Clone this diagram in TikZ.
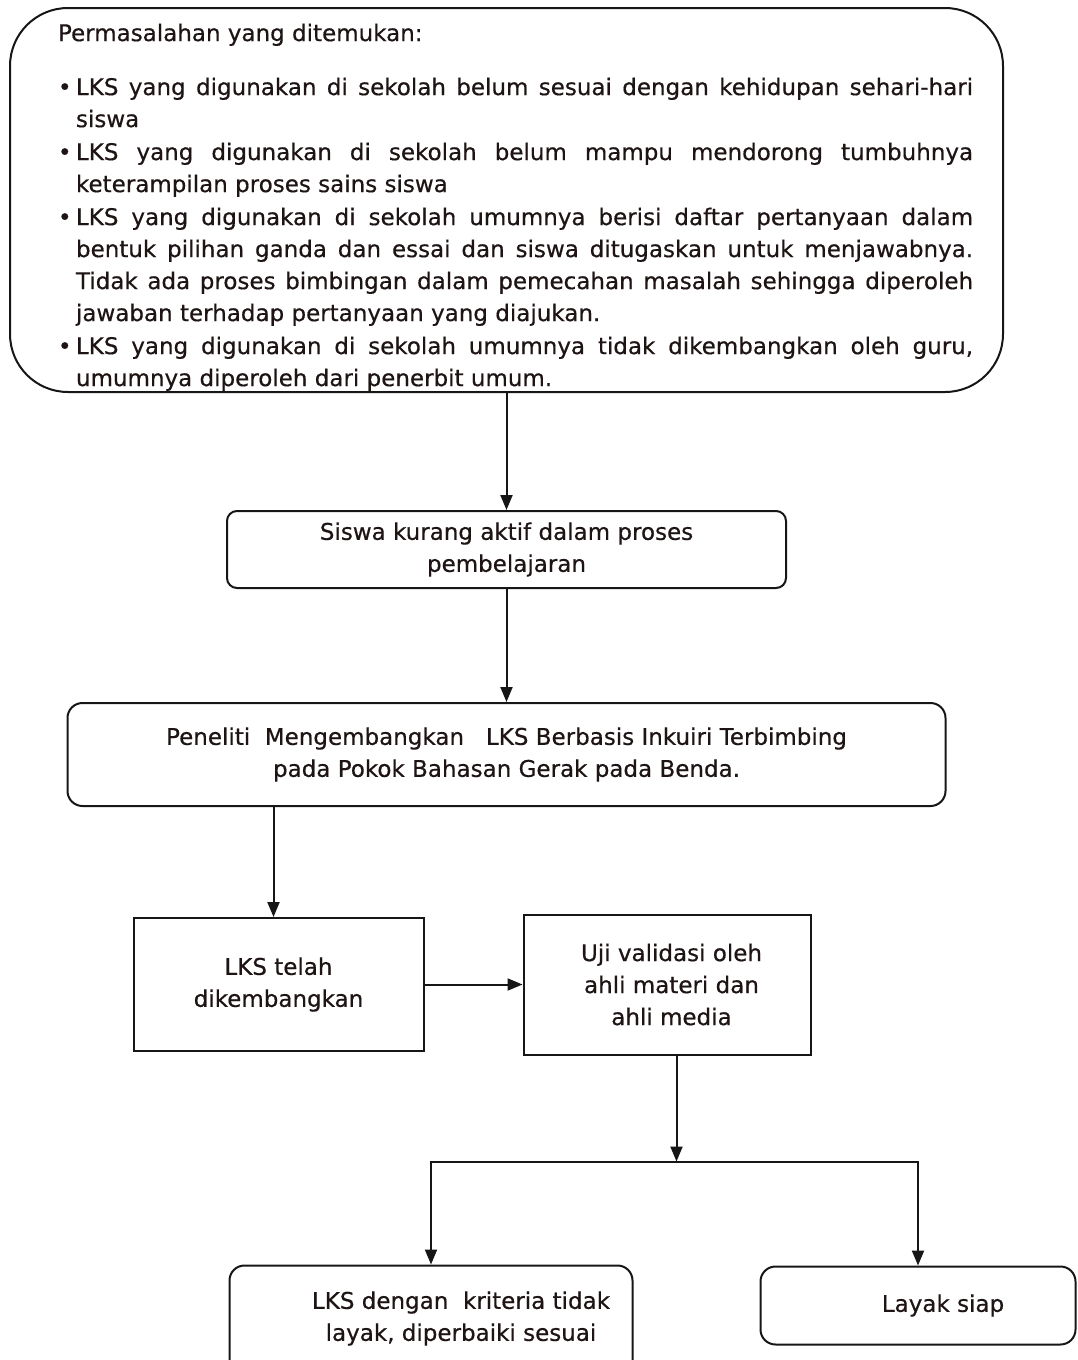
\documentclass[tikz,border=0pt]{standalone}
\usepackage{fontspec}
\setmainfont[FakeBold=0.5]{DejaVu Sans}
\usetikzlibrary{arrows.meta,positioning}
\definecolor{LksGaris}{HTML}{161616}
\definecolor{LksTeks}{HTML}{1E1414}
\newcommand{\butir}{\par\hangindent=18pt\hangafter=1\noindent\makebox[18pt][l]{•}}

\begin{document}
\begin{tikzpicture}[
    x=1pt,y=1pt,
    font=\fontsize{23}{32}\selectfont,
    kotak/.style={draw=LksGaris,line width=2pt,align=center,text=LksTeks},
    panah/.style={-{Triangle[length=15pt,width=12pt]},line width=2pt,LksGaris}
  ]
    \useasboundingbox (0,0) rectangle (1077,-1360);
    \node[kotak,rounded corners=58pt,minimum width=993pt,minimum height=384pt,inner ysep=0pt,text width=933pt,align=justify] (masalah) at (506.5,-200) {\leftskip=18pt\parskip=1pt\hyphenpenalty=10000
      \rule{0pt}{32pt}Permasalahan yang ditemukan:\par\vspace{21pt}
      \butir LKS yang digunakan di sekolah belum sesuai dengan kehidupan sehari-hari\linebreak siswa
      \butir LKS yang digunakan di sekolah belum mampu mendorong tumbuhnya\linebreak keterampilan proses sains siswa
      \butir LKS yang digunakan di sekolah umumnya berisi daftar pertanyaan dalam\linebreak bentuk pilihan ganda dan essai dan siswa ditugaskan untuk menjawabnya.\linebreak Tidak ada proses bimbingan dalam pemecahan masalah sehingga diperoleh\linebreak jawaban terhadap pertanyaan yang diajukan.
      \butir LKS yang digunakan di sekolah umumnya tidak dikembangkan oleh guru,\linebreak umumnya diperoleh dari penerbit umum.\par};
    \node[kotak,rounded corners=10pt,minimum width=559pt,minimum height=77pt,below=117pt of masalah] (siswa) {Siswa kurang aktif dalam proses\\pembelajaran};
    \node[kotak,rounded corners=15pt,minimum width=878pt,minimum height=103pt,below=113pt of siswa] (peneliti) {Peneliti\ \ Mengembangkan\ \ \ LKS Berbasis Inkuiri Terbimbing\\pada Pokok Bahasan Gerak pada Benda.};
    \node[kotak,minimum width=290pt,minimum height=133pt,below=110pt of peneliti,xshift=-228pt] (telah) {LKS telah\\dikembangkan};
    \node[kotak,minimum width=287pt,minimum height=140pt,right=98pt of telah] (uji) {\hspace*{9pt}Uji validasi oleh\\\hspace*{9pt}ahli materi dan\\\hspace*{9pt}ahli media};
    \coordinate[below=106pt of uji.south,xshift=9.5pt] (cabang);
    \node[kotak,rounded corners=15pt,minimum width=403pt,minimum height=118pt,below=103pt of cabang,xshift=-245.5pt,
      label={[align=center,text=LksTeks,xshift=30pt,yshift=6pt]center:{LKS dengan\ \ kriteria tidak\\layak, diperbaiki sesuai}}] (tidak) {};
    \node[kotak,rounded corners=15pt,minimum width=315pt,minimum height=78pt,below=104pt of cabang,xshift=241.5pt,
      label={[text=LksTeks,xshift=25pt]center:Layak siap}] (layak) {};
    \draw[panah] (masalah) -- (siswa);
    \draw[panah] (siswa) -- (peneliti);
    \draw[panah] ([xshift=-5pt]telah.north |- peneliti.south) -- ([xshift=-5pt]telah.north);
    \draw[panah] (telah.east) -- (telah.east -| uji.west);
    \draw[panah] (cabang |- uji.south) -- (cabang);
    \draw[panah] (cabang) -| (tidak.north);
    \draw[panah] (cabang) -| (layak.north);
  \end{tikzpicture}
\end{document}
